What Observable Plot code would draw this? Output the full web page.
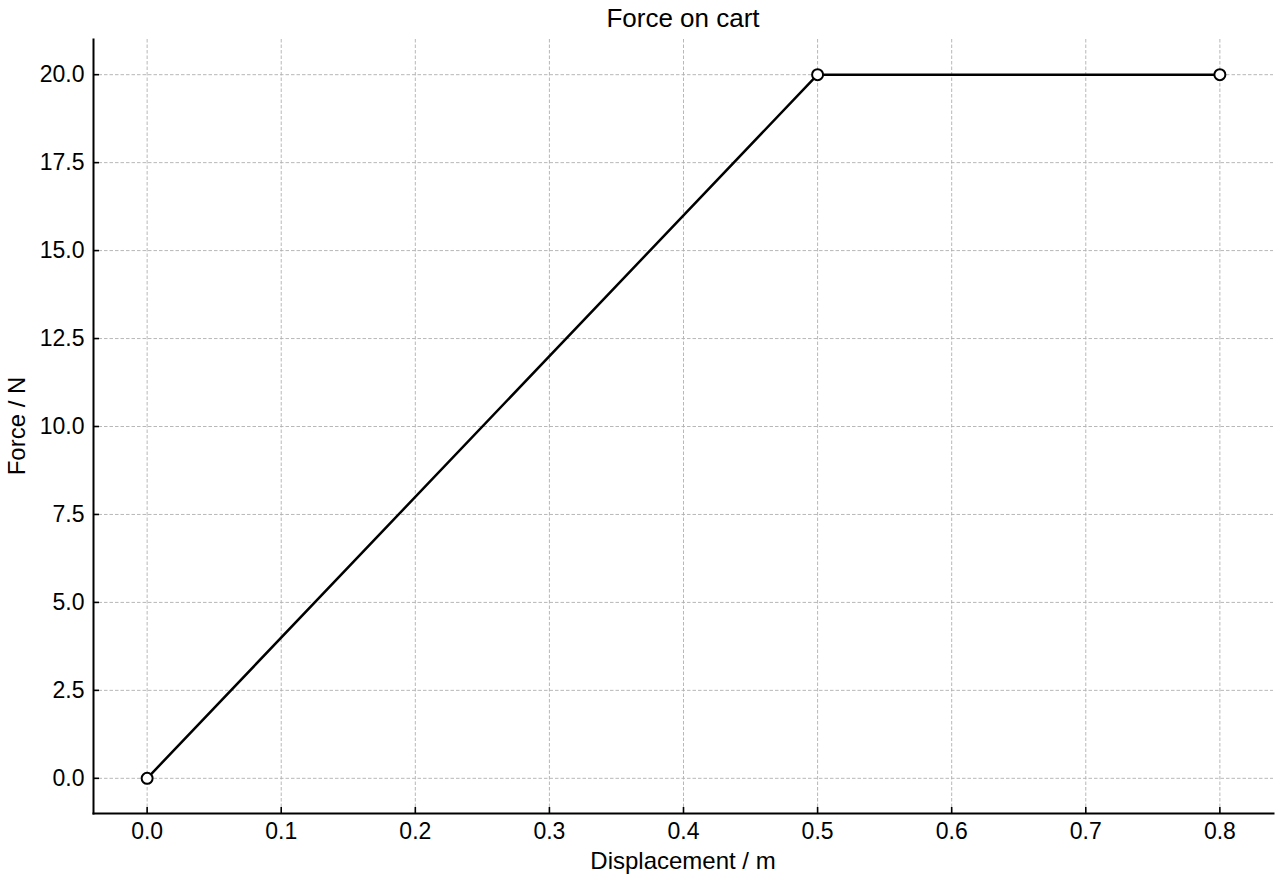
<!DOCTYPE html>
<html><head><meta charset="utf-8">
<script src="https://cdn.jsdelivr.net/npm/d3@7"></script>
<script src="https://cdn.jsdelivr.net/npm/@observablehq/plot@0.6"></script>
<style>
body{margin:0;background:#fff;}
#chart{position:relative;width:1280px;height:880px;}
#chart g[aria-label="x-axis tick label"] text,
#chart g[aria-label="y-axis tick label"] text{font-size:23px;}
</style>
</head><body><div id="chart"></div>
<script>
const displacement = [0.0, 0.5, 0.8];
const force = [0, 20, 20];
const xTicks = [0.0, 0.1, 0.2, 0.3, 0.4, 0.5, 0.6, 0.7, 0.8];
const yTicks = [0.0, 2.5, 5.0, 7.5, 10.0, 12.5, 15.0, 17.5, 20.0];
const title = "Force on cart";
const xLabel = "Displacement / m";
const yLabel = "Force / N";

const data = displacement.map((d, i) => ({x: d, y: force[i]}));
const W = 1280, H = 880, mL = 93, mR = 7, mT = 39, mB = 67;
const pw = W - mL - mR, ph = H - mT - mB;
const font = "'Liberation Sans', Arial, sans-serif";

const chart = Plot.plot({
  width: W, height: H,
  marginLeft: mL, marginRight: mR, marginTop: mT, marginBottom: mB,
  style: {fontFamily: font, fontSize: "23px", color: "#000", background: "#fff"},
  x: {domain: [-0.04, 0.84], ticks: xTicks, tickFormat: d3.format(".1f"), label: null},
  y: {domain: [-1, 21], ticks: yTicks, tickFormat: d3.format(".1f"), label: null},
  marks: [
    Plot.gridX(xTicks, {stroke: "#b0b0b0", strokeOpacity: 1, strokeWidth: 0.9, strokeDasharray: "3.5,2"}),
    Plot.gridY(yTicks, {stroke: "#b0b0b0", strokeOpacity: 1, strokeWidth: 0.9, strokeDasharray: "3.5,2"}),
    Plot.axisX(xTicks, {tickSize: 0, tickPadding: 9, tickFormat: d3.format(".1f"), label: null}),
    Plot.axisY(yTicks, {tickSize: 0, tickPadding: 9, tickFormat: d3.format(".1f"), label: null}),
    Plot.tickX(xTicks, {x: d => d, stroke: "#000", strokeWidth: 1.6, insetTop: ph - 6}),
    Plot.tickY(yTicks, {y: d => d, stroke: "#000", strokeWidth: 1.6, insetRight: pw - 6}),
    Plot.frame({anchor: "left", stroke: "#000", strokeWidth: 2}),
    Plot.frame({anchor: "bottom", stroke: "#000", strokeWidth: 2}),
    Plot.line(data, {x: "x", y: "y", stroke: "#000", strokeWidth: 2.5}),
    Plot.dot(data, {x: "x", y: "y", r: 5.5, fill: "#fff", stroke: "#000", strokeWidth: 2})
  ]
});
const svg = d3.select(chart);
svg.append("text").attr("x", mL + pw/2).attr("y", 18).attr("text-anchor", "middle")
  .attr("dominant-baseline", "central").attr("font-size", 26).attr("font-family", font).attr("fill", "#000").text(title);
svg.append("text").attr("x", mL + pw/2).attr("y", 860).attr("text-anchor", "middle")
  .attr("dominant-baseline", "central").attr("font-size", 24).attr("font-family", font).attr("fill", "#000").text(xLabel);
svg.append("text").attr("transform", `translate(16,${mT + ph/2}) rotate(-90)`).attr("text-anchor", "middle")
  .attr("dominant-baseline", "central").attr("font-size", 24).attr("font-family", font).attr("fill", "#000").text(yLabel);
document.getElementById("chart").appendChild(chart);
</script>
</body></html>
